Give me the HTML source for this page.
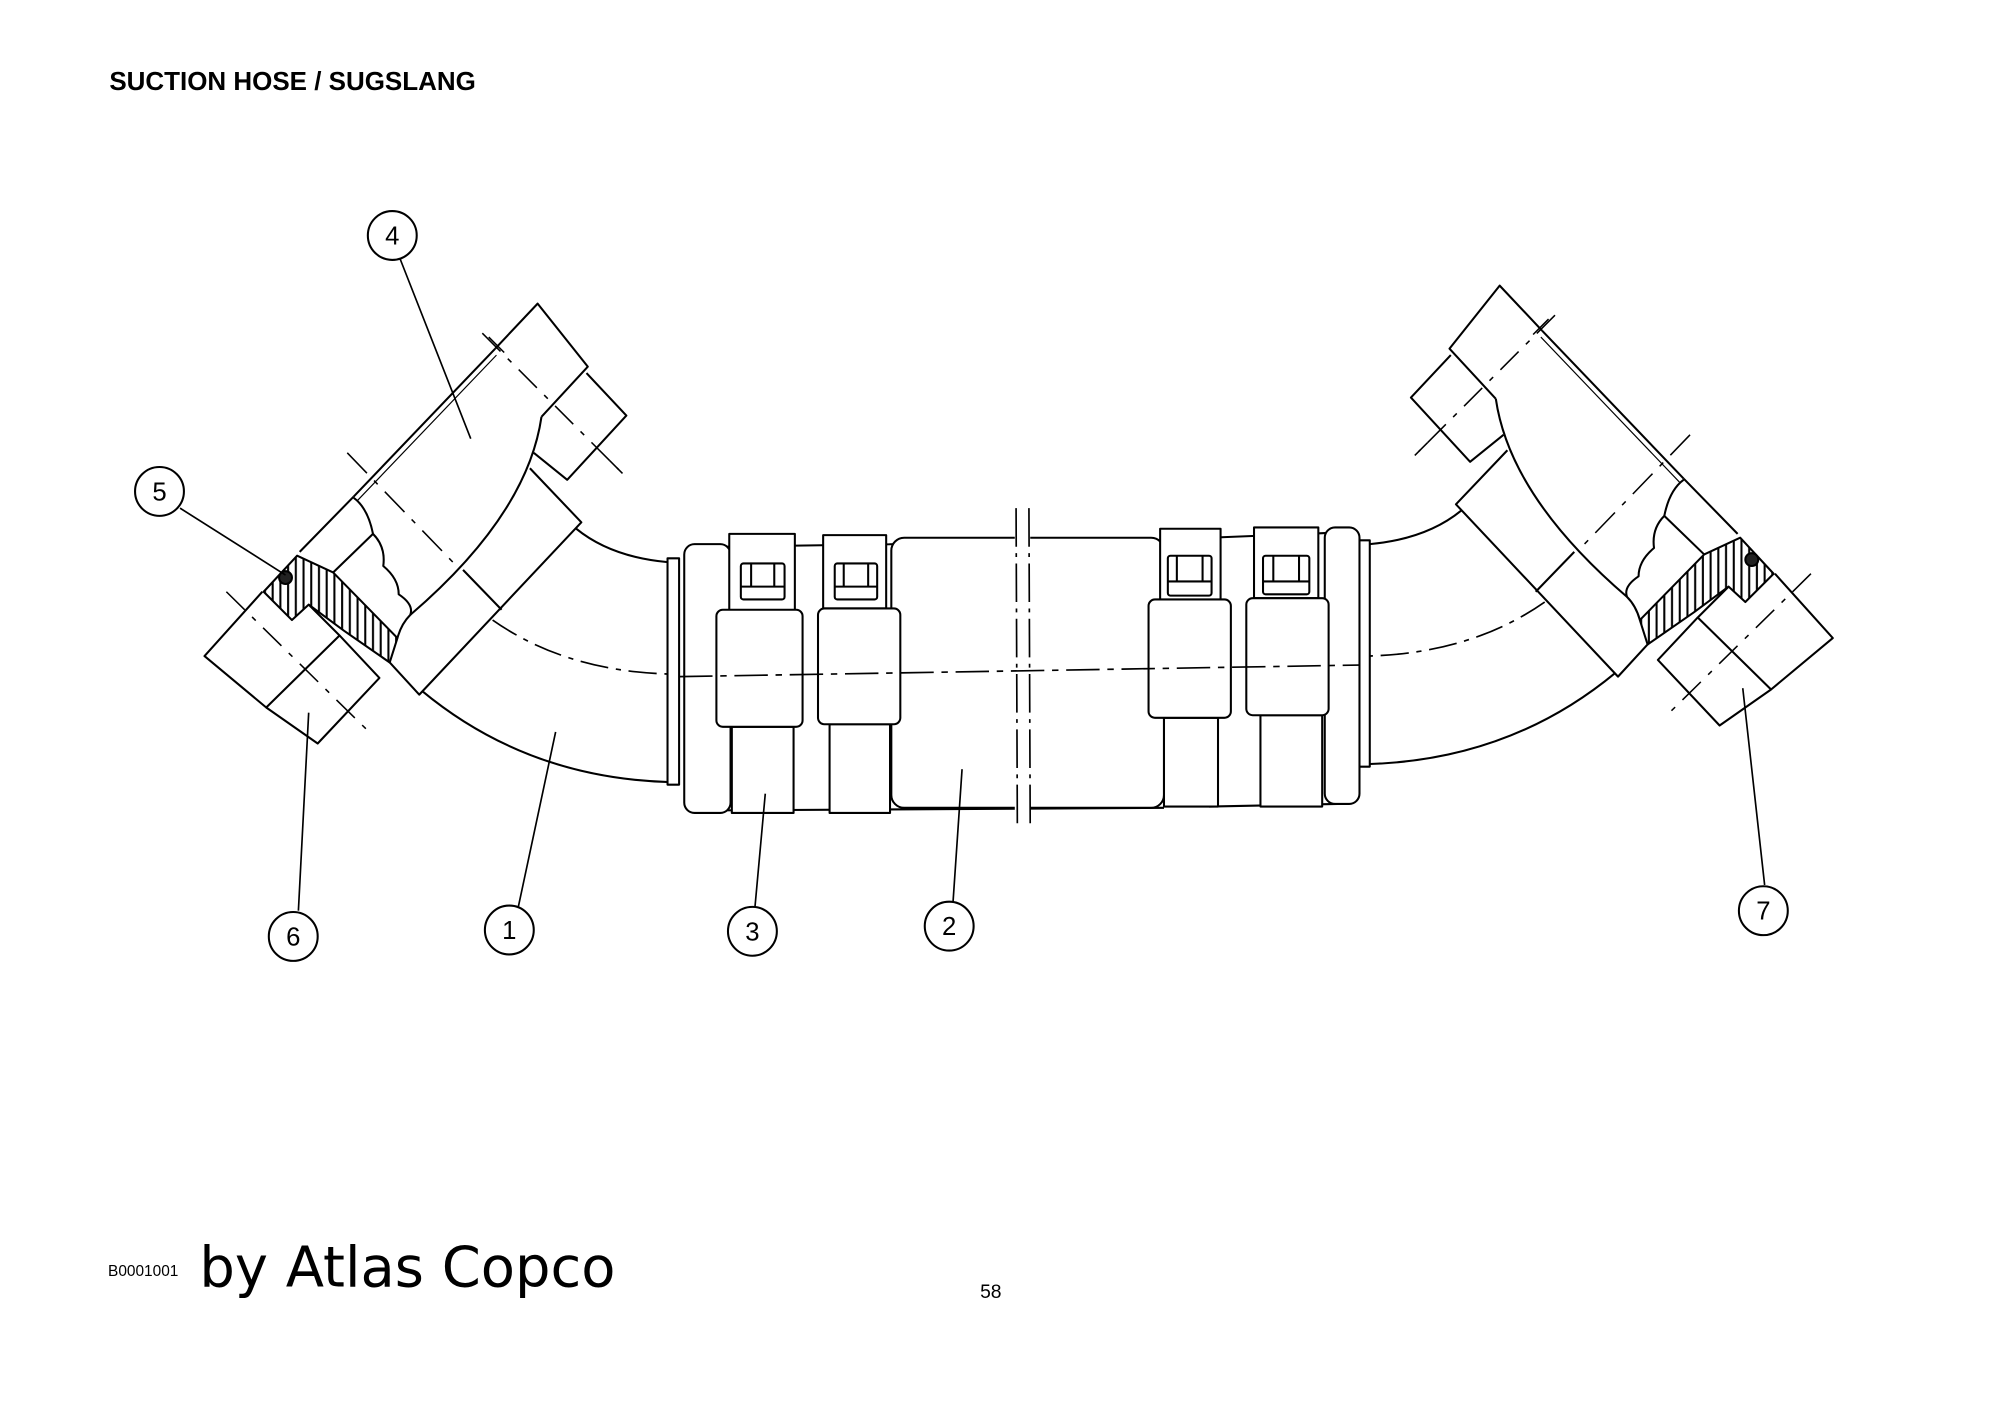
<!DOCTYPE html>
<html><head><meta charset="utf-8">
<style>
html,body{margin:0;padding:0;background:#fff;}
svg{display:block;}
text{font-family:"Liberation Sans",Arial,sans-serif;fill:#000;}
</style></head>
<body>
<svg width="2000" height="1415" viewBox="0 0 1555 1100" xmlns="http://www.w3.org/2000/svg">
<defs>
<pattern id="hatch" width="6" height="6" patternUnits="userSpaceOnUse">
<rect width="6" height="6" fill="#fff"/>
<line x1="2" y1="0" x2="2" y2="6" stroke="#000" stroke-width="1.6"/>
</pattern>
<g id="side" fill="none" stroke="#000" stroke-width="1.6" stroke-linejoin="round">
  <path d="M328,537 Q410,605 521,608"/>
  <path d="M448,411 Q475,433 519,437"/>
  <path d="M383,482 Q440,522 521,524" stroke-dasharray="22,6,4,6" stroke-width="1.3"/>
  <rect x="519" y="434" width="9" height="176" fill="#fff"/>
  <path d="M303,515 L326,540 L452,406 L412,364"/>
  <path d="M360,443 L390,474"/>
  <path d="M421,324 Q410,400 319,478"/>
  <path d="M275,386 L385,271"/>
  <path d="M278,389 L386,276" stroke-width="0.9"/>
  <path d="M385,271 L418,236 L457,285 L421,324"/>
  <path d="M456,290 L487,323 L441,373 L415,352"/>
  <path d="M375,259 L481,365" stroke-dasharray="20,8,4,8" stroke-width="1.2"/>
  <path d="M380,262 L392,274 M474,358 L484,368" stroke-width="1.2"/>
  <path d="M233,429 L275,386"/>
  <path d="M259,445 L290,415"/>
  <path d="M275,387 Q286,395 290,415 Q300,425 298,440 Q310,450 310,462 Q322,470 319,478 Q312,485 309,496"/>
  <path d="M270,352 L356,441" stroke-dasharray="22,8,4,8" stroke-width="1.2"/>
  <path d="M205,460 L231,432 L259,445 L309,496 L303,515 L267,490 L240,470 L227,482 Z" fill="url(#hatch)"/>
  <circle cx="222" cy="449" r="5" fill="#222" stroke="#000"/>
  <path d="M204,460 L159,510 L207,550 L264,494 L240,470"/>
  <path d="M207,550 L247,578 L295,527 L264,494"/>
  <path d="M176,460 L288,570" stroke-dasharray="20,8,4,8" stroke-width="1.2"/>
</g>
</defs>

<text x="85" y="70" font-size="20.2" font-weight="bold">SUCTION HOSE / SUGSLANG</text>

<use href="#side"/>
<use href="#side" transform="translate(1584,-14) scale(-1,1)"/>

<g fill="none" stroke="#000" stroke-width="1.6" stroke-linejoin="round">
  <path d="M560,425 L905,420 M560,630 L905,628"/>
  <path d="M940,418 L1040,414 M940,627 L1040,625"/>
  <rect x="693" y="418" width="212" height="210" rx="10" fill="#fff"/>
  <rect x="532" y="423" width="36" height="209" rx="8" fill="#fff"/>
  <rect x="567" y="415" width="51" height="60" fill="#fff"/>
  <rect x="576" y="438" width="34" height="28" rx="2" fill="#fff"/>
  <path d="M576,456 L610,456 M584,438 L584,456 M602,438 L602,456"/>
  <rect x="569" y="565" width="48" height="67" fill="#fff"/>
  <rect x="557" y="474" width="67" height="91" rx="5" fill="#fff"/>
  <rect x="640" y="416" width="49" height="57" fill="#fff"/>
  <rect x="649" y="438" width="33" height="28" rx="2" fill="#fff"/>
  <path d="M649,456 L682,456 M656,438 L656,456 M675,438 L675,456"/>
  <rect x="645" y="563" width="47" height="69" fill="#fff"/>
  <rect x="636" y="473" width="64" height="90" rx="5" fill="#fff"/>
  <rect x="1030" y="410" width="27" height="215" rx="8" fill="#fff"/>
  <rect x="902" y="411" width="47" height="56" fill="#fff"/>
  <rect x="908" y="432" width="34" height="31" rx="2" fill="#fff"/>
  <path d="M908,452 L942,452 M915,432 L915,452 M935,432 L935,452"/>
  <rect x="905" y="558" width="42" height="69" fill="#fff"/>
  <rect x="893" y="466" width="64" height="92" rx="5" fill="#fff"/>
  <rect x="975" y="410" width="50" height="55" fill="#fff"/>
  <rect x="982" y="432" width="36" height="30" rx="2" fill="#fff"/>
  <path d="M982,452 L1018,452 M990,432 L990,452 M1010,432 L1010,452"/>
  <rect x="980" y="556" width="48" height="71" fill="#fff"/>
  <rect x="969" y="465" width="64" height="91" rx="5" fill="#fff"/>
  <rect x="789" y="396" width="12" height="250" fill="#fff" stroke="none"/>
  <path d="M790,395 L791,645 M800,395 L801,645" stroke-dasharray="30,5,3,5" stroke-width="1.3"/>
  <path d="M528,526 L1057,517" stroke-dasharray="26,6,5,6" stroke-width="1.3"/>
  <path d="M311,201 L366,341 M140,395 L222,447 M232,708 L240,554 M403,705 L432,569 M587,705 L595,617 M741,701 L748,598 M1372,688 L1355,535" stroke-width="1.3"/>
</g>

<g fill="#fff" stroke="#000" stroke-width="1.6">
  <circle cx="305" cy="183" r="19"/>
  <circle cx="124" cy="382" r="19"/>
  <circle cx="228" cy="728" r="19"/>
  <circle cx="396" cy="723" r="19"/>
  <circle cx="585" cy="724" r="19"/>
  <circle cx="738" cy="720" r="19"/>
  <circle cx="1371" cy="708" r="19"/>
</g>
<g font-size="20" text-anchor="middle">
  <text x="305" y="190">4</text>
  <text x="124" y="389">5</text>
  <text x="228" y="735">6</text>
  <text x="396" y="730">1</text>
  <text x="585" y="731">3</text>
  <text x="738" y="727">2</text>
  <text x="1371" y="715">7</text>
</g>

<text x="84" y="992" font-size="12">B0001001</text>
<text x="155" y="1000" font-size="43.5" style="font-family:'DejaVu Sans','Liberation Sans',sans-serif">by Atlas Copco</text>
<text x="762" y="1009" font-size="15">58</text>
</svg>
</body></html>
